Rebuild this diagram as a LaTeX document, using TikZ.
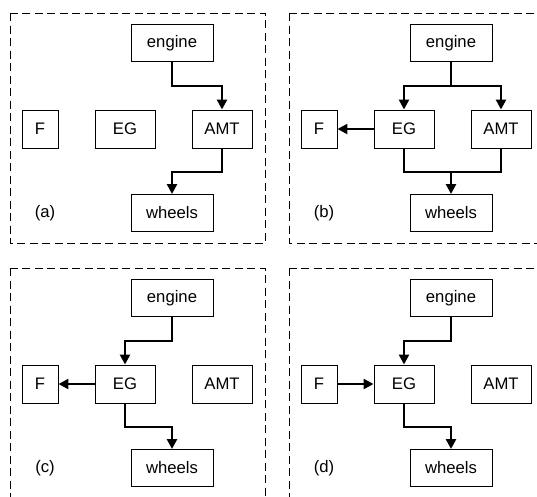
\documentclass[tikz,border=0pt]{standalone}
\usepackage{fontspec}
\setmainfont{Liberation Sans}
\usepackage{tikz}
\usetikzlibrary{arrows.meta}

\begin{document}
\begin{tikzpicture}[font=\fontsize{9.5}{11}\selectfont]
\tikzstyle{box}=[draw, line width=0.55pt, minimum height=0.76cm, inner sep=0pt]
\tikzstyle{wide box}=[box, minimum width=1.64cm, minimum height=0.74cm]
\tikzstyle{mid box}=[box, minimum width=1.2cm]
\tikzstyle{small box}=[box, minimum width=0.72cm]
\tikzstyle{frame}=[line width=0.5pt, dash pattern=on 0.16cm off 0.09cm]
\tikzstyle{link}=[line width=1.4pt]
\tikzstyle{flow}=[link, -{Triangle[length=0.2cm,width=0.2cm]}]

% Visible part of the figure
\clip (0,0) rectangle (10.74,-9.92);

% Draw the four panels with their blocks
\foreach \p/\dx/\dy in {a/0/0, b/5.58/0, c/0/-5.10, d/5.58/-5.10} {
  \draw[frame] ({0.2+\dx},{-0.26+\dy}) rectangle +(5.10,-4.60);
  \node[wide box] (\p-engine) at ({3.44+\dx},{-0.86+\dy}) {engine};
  \node[small box] (\p-F) at ({0.80+\dx},{-2.58+\dy}) {F};
  \node[mid box] (\p-EG) at ({2.50+\dx},{-2.58+\dy}) {EG};
  \node[mid box] (\p-AMT) at ({4.44+\dx},{-2.58+\dy}) {AMT};
  \node[wide box] (\p-wheels) at ({3.44+\dx},{-4.26+\dy}) {wheels};
  \node (\p-label) at ({0.90+\dx},{-4.26+\dy}) {(\p)};
  % junction points above and below the middle row
  \coordinate (\p-top) at ({3.44+\dx},{-1.72+\dy});
  \coordinate (\p-bot) at ({3.44+\dx},{-3.44+\dy});
}

% Panel (a): engine drives the wheels through the AMT
\draw[flow] (a-engine) -- (a-top) -| (a-AMT);
\draw[flow] (a-AMT) |- (a-bot) -- (a-wheels);

% Panel (b): power split between EG and AMT
\draw[flow] (b-engine) -- (b-top) -| (b-EG);
\draw[flow] (b-top) -| (b-AMT);
\draw[flow] (b-EG) -- (b-F);
\draw[link] (b-EG) |- (b-bot) -| (b-AMT);
\draw[flow] (b-bot) -- (b-wheels);

% Panel (c): EG charges F and drives the wheels
\draw[flow] (c-engine) -- (c-top) -| (c-EG);
\draw[flow] (c-EG) -- (c-F);
\draw[flow] (c-EG) |- (c-bot) -- (c-wheels);

% Panel (d): F feeds the EG as well
\draw[flow] (d-engine) -- (d-top) -| (d-EG);
\draw[flow] (d-F) -- (d-EG);
\draw[flow] (d-EG) |- (d-bot) -- (d-wheels);

\end{tikzpicture}
\end{document}
